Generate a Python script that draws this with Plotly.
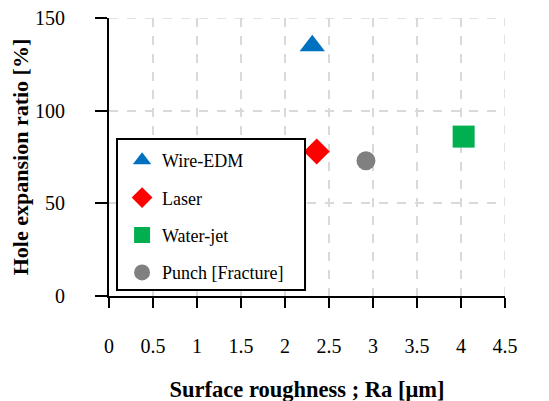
import plotly.graph_objects as go

series_names = ["Wire-EDM", "Laser", "Water-jet", "Punch [Fracture]"]
roughness_ra = [2.31, 2.36, 4.03, 2.92]
hole_expansion = [135, 78, 86, 73]
symbols = ["triangle-up", "diamond", "square", "circle"]
colors = ["#0070C0", "#FF0000", "#00B050", "#808080"]
sizes = [22, 20, 22, 19]

x_ticks = [0, 0.5, 1, 1.5, 2, 2.5, 3, 3.5, 4, 4.5]
x_tick_labels = ["0", "0.5", "1", "1.5", "2", "2.5", "3", "3.5", "4", "4.5"]
y_ticks = [0, 50, 100, 150]

fig = go.Figure()
for i, name in enumerate(series_names):
    fig.add_trace(go.Scatter(
        x=[roughness_ra[i]], y=[hole_expansion[i]], mode="markers", name=name,
        legendgroup=name,
        marker=dict(symbol=symbols[i], color=colors[i], size=sizes[i],
                    line=dict(width=0)),
    ))

grid_style = dict(color="#d9d9d9", width=1.5, dash="dash")
# edge gridlines (plotly drops gridlines that sit on the range ends)
fig.add_shape(type="line", xref="x", yref="paper", x0=x_ticks[-1], x1=x_ticks[-1],
              y0=0, y1=1, line=grid_style, layer="below")
fig.add_shape(type="line", xref="paper", yref="y", x0=0, x1=1,
              y0=y_ticks[-1], y1=y_ticks[-1], line=grid_style, layer="below")
# legend frame
fig.add_shape(type="rect", xref="paper", yref="paper",
              x0=0.0202, x1=0.495, y0=0.0216, y1=0.565,
              fillcolor="white", line=dict(color="black", width=2), layer="above")

serif = "Liberation Serif"
fig.update_layout(
    width=549, height=401,
    margin=dict(l=101, r=52, t=10, b=113, autoexpand=False),
    paper_bgcolor="white", plot_bgcolor="white",
    font=dict(family=serif, color="black"),
    showlegend=True,
    legend=dict(
        x=0.033, y=0.554, xanchor="left", yanchor="top",
        bgcolor="rgba(0,0,0,0)", borderwidth=0,
        font=dict(family=serif, size=18, color="black"),
        tracegroupgap=11, traceorder="grouped",
        itemsizing="trace",
    ),
    xaxis=dict(
        range=[0, 4.5], tickvals=x_ticks, ticktext=x_tick_labels,
        showline=True, linecolor="black", linewidth=2,
        ticks="outside", ticklen=10, tickwidth=2, tickcolor="black",
        showgrid=True, gridcolor="#d9d9d9", griddash="dash", gridwidth=1.5,
        zeroline=False, automargin=False,
        tickfont=dict(family=serif, size=20, color="black"),
        ticklabelstandoff=21, ticklabeloverflow="allow",
        title=dict(text="<b>Surface roughness ; Ra [μm]</b>",
                   font=dict(family=serif, size=22.5, color="black"), standoff=25),
    ),
    yaxis=dict(
        range=[0, 150], tickvals=y_ticks,
        showline=True, linecolor="black", linewidth=2,
        ticks="outside", ticklen=12, tickwidth=2, tickcolor="black",
        showgrid=True, gridcolor="#d9d9d9", griddash="dash", gridwidth=1.5,
        zeroline=False, automargin=False,
        tickfont=dict(family=serif, size=20, color="black"),
        ticklabelstandoff=26, ticklabeloverflow="allow",
        title=dict(text="<b>Hole expansion ratio [%]</b>",
                   font=dict(family=serif, size=22, color="black"), standoff=4),
    ),
)
fig.write_html("out.html")
